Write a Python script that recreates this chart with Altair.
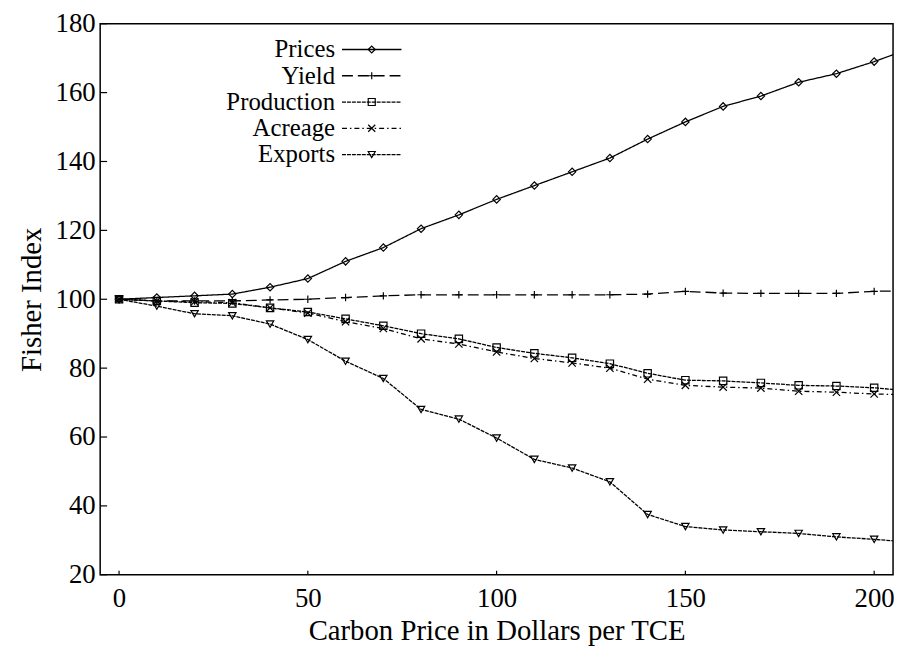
import altair as alt
import pandas as pd

carbon = [0, 10, 20, 30, 40, 50, 60, 70, 80, 90, 100, 110, 120, 130, 140, 150, 160, 170, 180, 190, 200, 210]
prices = [100, 100.5, 101, 101.5, 103.5, 106, 111, 115, 120.5, 124.5, 129, 133, 137, 141, 146.5, 151.5, 156, 159, 163, 165.5, 169, 173]
yield_ = [100, 99.5, 99.5, 99.5, 99.8, 100, 100.5, 101, 101.3, 101.3, 101.3, 101.3, 101.3, 101.3, 101.5, 102.3, 101.8, 101.7, 101.7, 101.7, 102.3, 102.5]
production = [100, 99.5, 99, 98.8, 97.5, 96.3, 94.3, 92.3, 90, 88.5, 86, 84.3, 83, 81.3, 78.5, 76.5, 76.3, 75.7, 75, 74.8, 74.3, 73.3]
acreage = [100, 99.5, 99.3, 99, 97.5, 96, 93.5, 91.5, 88.5, 87, 84.7, 82.8, 81.5, 80, 76.8, 75, 74.5, 74.2, 73.3, 73, 72.5, 72.2]
exports = [100, 98, 95.8, 95.2, 92.8, 88.3, 82, 77, 68, 65.2, 59.7, 53.5, 51, 47, 37.5, 34, 33, 32.5, 32, 31, 30.3, 29.4]

names = ["Prices", "Yield", "Production", "Acreage", "Exports"]
series = [prices, yield_, production, acreage, exports]

y_ticks = [20, 40, 60, 80, 100, 120, 140, 160, 180]
x_ticks = [0, 50, 100, 150, 200]

FONT = "Liberation Serif"
FS = 27
TFS = 29
LFS = 25

rows = []
for n, vals in zip(names, series):
    for c, v in zip(carbon, vals):
        rows.append({"series": n, "carbon": c, "value": v})
df = pd.DataFrame(rows)

shape_range = ["diamond", "M-1,0H1M0,-1V1", "square", "M-1,-1L1,1M-1,1L1,-1", "triangle-down"]
dash_range = [[1, 0], [11, 5], [4, 1], [5, 3, 1.5, 3], [4, 1]]

shape_enc = alt.Shape("series:N", scale=alt.Scale(domain=names, range=shape_range), legend=None)
dash_enc = alt.StrokeDash("series:N", scale=alt.Scale(domain=names, range=dash_range), legend=None)

xscale = alt.Scale(domain=[-5, 205], nice=False, zero=False)
yscale = alt.Scale(domain=[20, 180], nice=False, zero=False)

xax = alt.Axis(values=x_ticks, title="Carbon Price in Dollars per TCE", ticks=False, domain=False,
               grid=False, labelPadding=11, titlePadding=5,
               labelFont=FONT, labelFontSize=FS, labelColor="black",
               titleFont=FONT, titleFontSize=TFS, titleColor="black", titleFontWeight="normal")
yax = alt.Axis(values=y_ticks, title="Fisher Index", ticks=False, domain=False, grid=False,
               labelPadding=5, titlePadding=9,
               labelFont=FONT, labelFontSize=FS, labelColor="black",
               titleFont=FONT, titleFontSize=TFS, titleColor="black", titleFontWeight="normal")

base = alt.Chart(df)

lines = base.mark_line(color="black", strokeWidth=1.3, clip=True).encode(
    x=alt.X("carbon:Q", scale=xscale, axis=xax),
    y=alt.Y("value:Q", scale=yscale, axis=yax),
    strokeDash=dash_enc,
    detail="series:N",
)

points = base.transform_filter(alt.datum.carbon <= 200).mark_point(
    color="black", filled=False, strokeWidth=1.2, size=55, opacity=1
).encode(
    x=alt.X("carbon:Q", scale=xscale),
    y=alt.Y("value:Q", scale=yscale),
    shape=shape_enc,
)

ytick_df = pd.DataFrame({"v": y_ticks})
xtick_df = pd.DataFrame({"v": x_ticks})

yticks = alt.Chart(ytick_df).mark_rule(color="black", strokeWidth=1.2).encode(
    y=alt.Y("v:Q", scale=yscale), x=alt.value(0), x2=alt.value(7)
)
xticks = alt.Chart(xtick_df).mark_rule(color="black", strokeWidth=1.2).encode(
    x=alt.X("v:Q", scale=xscale), y=alt.value(556), y2=alt.value(552)
)

leg_df = pd.DataFrame({"series": names, "idx": list(range(len(names)))})
leg = alt.Chart(leg_df).transform_calculate(off="datum.idx * 26.5")

LY = 26
leg_text = leg.mark_text(align="right", baseline="middle", font=FONT, fontSize=LFS, color="black").encode(
    x=alt.value(237), y=alt.value(LY), yOffset=alt.YOffset("off:Q", scale=None), text="series:N"
)
leg_line = leg.mark_rule(color="black", strokeWidth=1.3).encode(
    x=alt.value(244), x2=alt.value(304), y=alt.value(LY),
    yOffset=alt.YOffset("off:Q", scale=None), strokeDash=dash_enc
)
leg_pt = leg.mark_point(color="black", filled=False, strokeWidth=1.2, size=50, opacity=1).encode(
    x=alt.value(274), y=alt.value(LY), yOffset=alt.YOffset("off:Q", scale=None), shape=shape_enc
)

chart = alt.layer(lines, points, yticks, xticks, leg_line, leg_pt, leg_text).properties(
    width=800, height=556,
    background="white",
    autosize=alt.AutoSizeParams(type="none"),
    padding={"left": 93, "top": 13, "right": 5, "bottom": 70},
).configure_view(stroke="black", strokeWidth=1.5)

chart.save("out.html", embed_options={"renderer": "svg", "actions": False})
